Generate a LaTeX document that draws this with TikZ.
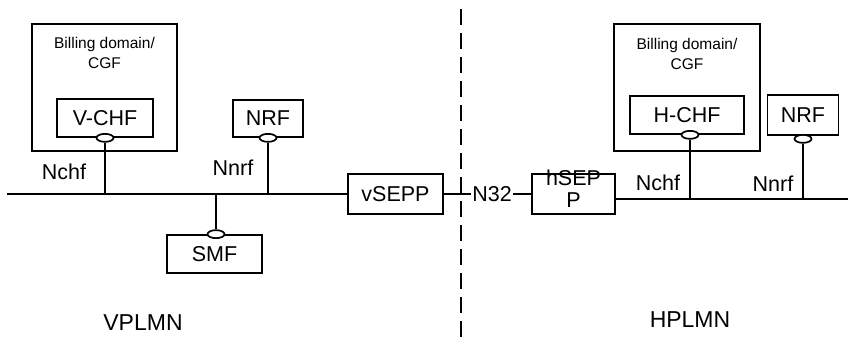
\documentclass[tikz,border=0pt]{standalone}
\usepackage{fontspec}
\setmainfont{Liberation Sans}
\usetikzlibrary{shapes.geometric,positioning}

\begin{document}
\begin{tikzpicture}[x=1pt, y=-1pt, line width=1.7pt,
    nfbox/.style={draw, inner sep=0pt, font=\fontsize{21.5}{22}\selectfont},
    domainbox/.style={draw, inner sep=0pt},
    port/.style={draw, fill=white, ellipse, inner sep=0pt, minimum width=17pt, minimum height=8pt},
    iflabel/.style={inner sep=0pt, font=\fontsize{21.5}{22}\selectfont},
    plmn/.style={font=\fontsize{23}{26}\selectfont}]
    \useasboundingbox (0,0) rectangle (848,345);

    % Bus ends and border
    \coordinate (vbus) at (7,194);
    \coordinate (hbusend) at (848,199);
    \coordinate (dtop) at (461,9);
    \coordinate (dbot) at (461,345);

    % VPLMN side
    \node[domainbox, minimum width=145pt, minimum height=127pt] (vdomain) at (104.5,87.5) {};
    \node[align=center, font=\fontsize{15.5}{20}\selectfont] (vdomaintext) at (104.5,53) {Billing domain/\\CGF};
    \node[nfbox, minimum width=96pt, minimum height=38pt] (vchf) at (105,118) {V-CHF};
    \node[nfbox, minimum width=70pt, minimum height=37pt] (vnrf) at (268,118.5) {NRF};
    \node[nfbox, minimum width=95pt, minimum height=38pt] (smf) at (214.5,254) {SMF};
    \node[nfbox, minimum width=95pt, minimum height=40pt] (vsepp) at (395.5,194) {vSEPP};

    \node[port] (vchfport) at (vchf.south) {};
    \node[port] (vnrfport) at (vnrf.south) {};
    \node[port] (smfport) at ([xshift=1.5pt]smf.north) {};

    % HPLMN side
    \node[domainbox, minimum width=146pt, minimum height=127pt] (hdomain) at (687,87.5) {};
    \node[align=center, font=\fontsize{15.5}{20}\selectfont] (hdomaintext) at (687,54) {Billing domain/\\CGF};
    \node[nfbox, minimum width=114pt, minimum height=38pt] (hchf) at (687,115) {H-CHF};
    \node[nfbox, minimum width=71pt, minimum height=40pt] (hnrf) at (803,115) {NRF};
    \node[nfbox, minimum width=83pt, minimum height=40pt] (hsepp) at (573.5,194) {};
    \node[iflabel, align=center] (hsepptext) at (573.5,189) {hSEP\\P};

    \node[port] (hchfport) at ([xshift=3pt]hchf.south) {};
    \node[port] (hnrfport) at ([yshift=-3pt]hnrf.south) {};

    % Reference points
    \node[iflabel] (n32) at (492,194) {N32};
    \draw (vbus) -- (vsepp.west);
    \draw (vsepp.east) -- (n32.west);
    \draw (n32.east) -- (hsepp.west);
    \draw ([yshift=-5pt]hsepp.east) -- (hbusend);

    \draw (vchfport.south) -- (vchfport.south |- vbus);
    \draw (vnrfport.south) -- (vnrfport.south |- vbus);
    \draw (smfport.north) -- (smfport.north |- vbus);
    \draw (hchfport.south) -- (hchfport.south |- hbusend);
    \draw (hnrfport.south) -- (hnrfport.south |- hbusend);

    % Labels
    \node[iflabel] (vnchf) at (64,172) {Nchf};
    \node[iflabel] (vnnrf) at (233,168) {Nnrf};
    \node[iflabel] (hnchf) at (658,183) {Nchf};
    \node[iflabel] (hnnrf) at (773,184) {Nnrf};

    % Border between networks
    \draw[dash pattern=on 16pt off 8pt] (dtop) -- (dbot);
    \node[plmn] (vplmn) at (143,323) {VPLMN};
    \node[plmn] (hplmn) at (690,320) {HPLMN};

\end{tikzpicture}
\end{document}
